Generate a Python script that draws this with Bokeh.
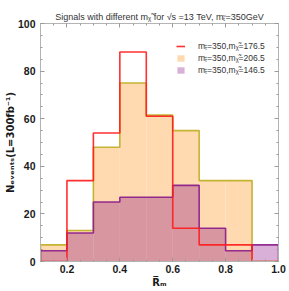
from bokeh.plotting import figure
from bokeh.models import (Legend, LegendItem, LinearAxis, SingleIntervalTicker,
                          CustomJSTickFormatter, PrintfTickFormatter, Range1d)
from bokeh.embed import file_html
from bokeh.resources import INLINE

# ---- data ----
bin_edges = [0.1, 0.2, 0.3, 0.4, 0.5, 0.6, 0.7, 0.8, 0.9, 1.0]
counts_176 = [0, 34, 54, 88, 61, 14, 7, 7, 0]          # red outline
counts_206 = [7, 13, 48, 75, 61.5, 55, 34, 34, 0]      # orange filled
counts_146 = [4.5, 12, 25, 27, 27, 32, 14, 4.5, 7]     # purple filled

label_176 = "m\u209c\u0303=350,m\u1d6a\u0303=176.5"
label_206 = "m\u209c\u0303=350,m\u1d6a\u0303=206.5"
label_146 = "m\u209c\u0303=350,m\u1d6a\u0303=146.5"
title_text = "Signals with different m\u1d6a\u0303 for \u221as =13 TeV, m\u209c\u0303=350GeV"
x_label = "R\u0305\u2098"
y_label = "N\u2091\u1d65\u2091\u2099\u209c\u209b(L=300fb\u207b\u00b9)"

x_lo, x_hi = 0.1, 1.0
y_lo, y_hi = 0, 100

p = figure(width=289, height=291, output_backend="svg", toolbar_location=None,
           x_range=Range1d(x_lo, x_hi), y_range=Range1d(y_lo, y_hi),
           min_border_left=40, min_border_right=11, min_border_top=23,
           min_border_bottom=30)
p.background_fill_color = "white"
p.border_fill_color = "white"
p.outline_line_color = "#b4b4b4"
p.grid.visible = False

p.title.text = title_text
p.title.align = "center"
p.title.text_font = "Liberation Sans"
p.title.text_font_size = "9px"
p.title.text_font_style = "normal"
p.title.text_color = "#333333"
p.title.standoff = 4

left = bin_edges[:-1]
right = bin_edges[1:]

r_or = p.quad(left=left, right=right, bottom=0, top=counts_206,
              fill_color="#ffdab0", fill_alpha=1.0, line_color=None)
r_pu = p.quad(left=left, right=right, bottom=0, top=counts_146,
              fill_color="#800080", fill_alpha=0.31, line_color=None)

def step_xy(vals):
    xs = [bin_edges[0]] + list(bin_edges)
    ys = [0] + list(vals) + [0]
    return xs, ys

xs, ys = step_xy(counts_206)
p.step(xs, ys, mode="after", line_color="#c2b02a", line_width=1.6, line_alpha=0.95)
xs, ys = step_xy(counts_146)
p.step(xs, ys, mode="after", line_color="#8a1a8a", line_width=1.6, line_alpha=0.9)
xs, ys = step_xy(counts_176)
r_red = p.step(xs, ys, mode="after", line_color="#ff1a1a", line_width=1.6, line_alpha=0.9)

legend = Legend(items=[LegendItem(label=label_176, renderers=[r_red]),
                       LegendItem(label=label_206, renderers=[r_or]),
                       LegendItem(label=label_146, renderers=[r_pu])],
                location=(136, 186), border_line_color=None,
                background_fill_alpha=0, label_text_font_size="8.5px",
                label_text_font="Liberation Sans", label_text_color="#333333",
                glyph_width=9, glyph_height=8, label_height=10, spacing=1,
                padding=2, label_standoff=13, margin=0)
p.add_layout(legend)

xt = SingleIntervalTicker(interval=0.2, num_minor_ticks=4)
yt = SingleIntervalTicker(interval=20, num_minor_ticks=4)

def style_axis(ax):
    ax.axis_line_color = "#b4b4b4"
    ax.major_tick_line_color = "#9a9a9a"
    ax.minor_tick_line_color = "#9a9a9a"
    ax.major_tick_in = 4
    ax.major_tick_out = 0
    ax.minor_tick_in = 2
    ax.minor_tick_out = 0
    ax.major_label_text_font = "Liberation Sans"
    ax.major_label_text_font_style = "bold"
    ax.major_label_text_font_size = "10.5px"
    ax.major_label_text_color = "#1a1a1a"

p.xaxis.ticker = xt
p.yaxis.ticker = yt
p.xaxis.formatter = PrintfTickFormatter(format="%.1f")
for ax in p.xaxis + p.yaxis:
    style_axis(ax)
p.xaxis.major_label_standoff = 3
p.yaxis.major_label_standoff = 5
p.xaxis.axis_label = x_label
p.yaxis.axis_label = y_label
for ax in p.xaxis + p.yaxis:
    ax.axis_label_text_font = "DejaVu Sans"
    ax.axis_label_text_font_style = "bold"
    ax.axis_label_text_font_size = "10px"
    ax.axis_label_text_color = "#1a1a1a"
    ax.axis_label_standoff = 1
p.yaxis.axis_label_standoff = -1

blank = CustomJSTickFormatter(code="return ''")
top_ax = LinearAxis(ticker=xt, formatter=blank)
right_ax = LinearAxis(ticker=yt, formatter=blank)
for ax in (top_ax, right_ax):
    style_axis(ax)
    ax.major_label_text_font_size = "1px"
    ax.major_label_standoff = 0
p.add_layout(top_ax, "above")
p.add_layout(right_ax, "right")

open("out.html", "w").write(file_html(p, INLINE))
